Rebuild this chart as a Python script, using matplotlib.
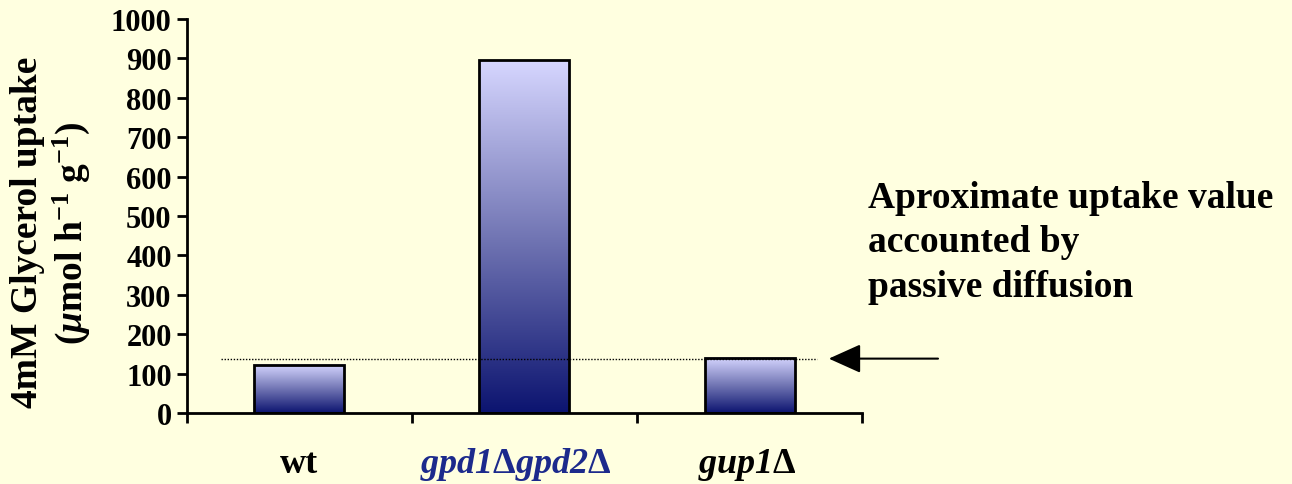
import matplotlib
matplotlib.use("Agg")
import matplotlib.pyplot as plt
import numpy as np
from matplotlib.colors import LinearSegmentedColormap

categories = ["wt", r"$gpd1\mathbf{\Delta}gpd2\mathbf{\Delta}$", r"$gup1\mathbf{\Delta}$"]
uptake = [122, 895, 140]
label_colors = ["black", "#1c2a8c", "black"]
passive_level = 138
yticks = [0, 100, 200, 300, 400, 500, 600, 700, 800, 900, 1000]

plt.rcParams["font.family"] = ["Liberation Serif", "DejaVu Serif"]
plt.rcParams["font.weight"] = "bold"
plt.rcParams["mathtext.fontset"] = "custom"
# rm is italic so digits inside gene names come out italic
plt.rcParams["mathtext.rm"] = "Liberation Serif:italic:bold"
plt.rcParams["mathtext.it"] = "Liberation Serif:italic:bold"
plt.rcParams["mathtext.bf"] = "Liberation Serif:bold"

bg = "#ffffe0"
fig = plt.figure(figsize=(12.92, 4.85), dpi=100, facecolor=bg)
ax = fig.add_axes([0.1447, 0.1464, 0.6672 - 0.1447, 0.9588 - 0.1464])
ax.set_facecolor(bg)

# gradient light lavender at top -> navy at bottom
cmap = LinearSegmentedColormap.from_list("bar", ["#0c1470", "#7276b4", "#d6d6ff"])
grad = np.linspace(0, 1, 256).reshape(-1, 1)

xpos = np.arange(len(categories)) + 0.5
width = 0.4
for x, v in zip(xpos, uptake):
    ax.imshow(grad, cmap=cmap, origin="lower", aspect="auto",
              extent=[x - width / 2, x + width / 2, 0, v], zorder=2)
    ax.bar(x, v, width=width, facecolor="none", edgecolor="black",
           linewidth=2, zorder=3)

ax.set_xlim(0, 3)
ax.set_ylim(0, 1000)

ax.plot([0.15, 2.8], [passive_level, passive_level], color="black",
        linestyle=(0, (1, 1.2)), linewidth=1, zorder=4)

ax.spines["top"].set_visible(False)
ax.spines["right"].set_visible(False)
ax.spines["left"].set_linewidth(2)
ax.spines["bottom"].set_linewidth(2)

ax.set_yticks(yticks)
ax.set_yticklabels([str(t) for t in yticks], fontsize=22, fontweight="bold")
ax.tick_params(axis="y", direction="out", length=7, width=2, pad=4)

ax.set_xticks([0, 1, 2, 3])
ax.set_xticklabels([])
ax.tick_params(axis="x", direction="out", length=7, width=2)
xshift = [0, -0.04, -0.01]
for x, dx, name, c in zip(xpos, xshift, categories, label_colors):
    ax.text(x + dx, -129, name, ha="center", va="center", fontsize=26,
            fontweight="bold", color=c)

ax.set_ylabel("4mM Glycerol uptake\n($\\mu$mol h$^{\\mathbf{-1}}$ g$^{\\mathbf{-1}}$)",
              fontsize=27, fontweight="bold", linespacing=1.2,
              multialignment="center")
ax.yaxis.set_label_coords(-0.14, 0.46)

ax.annotate("", xy=(2.84, passive_level), xytext=(3.35, passive_level),
            xycoords="data", textcoords="data", annotation_clip=False,
            arrowprops=dict(arrowstyle="-|>,head_length=1.0,head_width=0.45",
                            mutation_scale=20, color="black", linewidth=1.5))

fig.text(0.672, 0.499, "Aproximate uptake value\naccounted by\npassive diffusion",
         ha="left", va="center", fontsize=27, fontweight="bold",
         linespacing=1.36)

fig.savefig("out.png", dpi=100, facecolor=bg)
